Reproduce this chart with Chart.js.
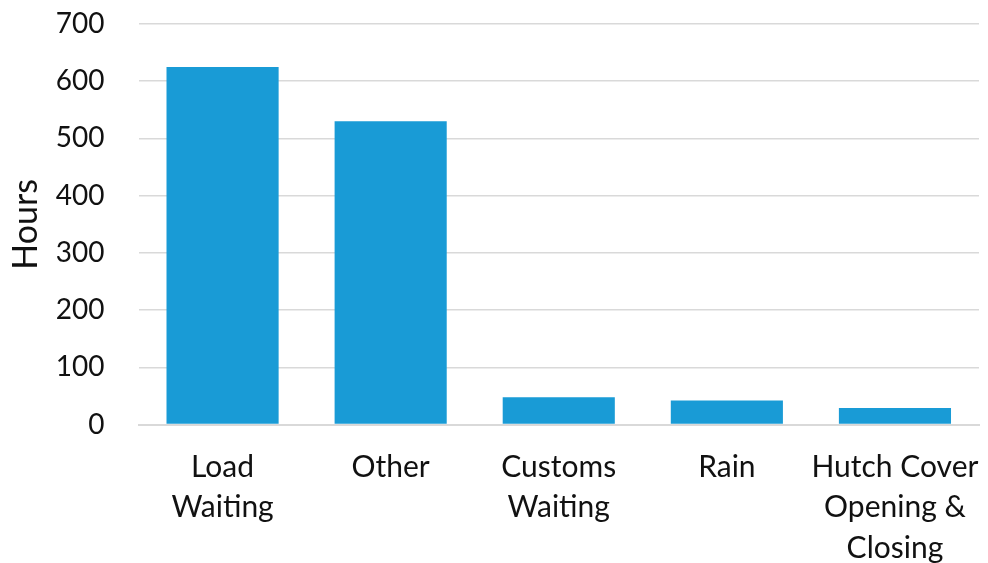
<!DOCTYPE html>
<html lang="en">
<head>
    <meta charset="UTF-8">
    <title>Delay Hours</title>
    <script src="https://cdn.jsdelivr.net/npm/chart.js"></script>
    <style>
        html, body { margin: 0; padding: 0; background: #fff; }
        #wrap { width: 988px; height: 563px; }
    </style>
</head>
<body>
    <div id="wrap"><canvas id="delayChart"></canvas></div>
    <script>
        const categories = [
            ['Load', 'Waiting'],
            'Other',
            ['Customs', 'Waiting'],
            'Rain',
            ['Hutch Cover', 'Opening &', 'Closing']
        ];
        const hours = [625, 530, 48, 42, 29];

        const font = "Lato, 'Open Sans', sans-serif";
        const clear = 'rgba(0,0,0,0)';

        const ctx = document.getElementById('delayChart').getContext('2d');
        new Chart(ctx, {
            type: 'bar',
            data: {
                labels: categories,
                datasets: [{
                    label: 'Hours',
                    data: hours,
                    backgroundColor: '#199bd6',
                    barPercentage: 0.667,
                    categoryPercentage: 1.0
                }]
            },
            options: {
                responsive: true,
                maintainAspectRatio: false,
                animation: false,
                layout: { padding: { left: 4, right: 9, top: 24, bottom: -8 } },
                plugins: {
                    legend: { display: false },
                    tooltip: { enabled: false }
                },
                scales: {
                    x: {
                        // invisible tick marks give the gap under the axis without extra side padding
                        grid: { display: true, drawOnChartArea: false, tickLength: 20, tickColor: clear },
                        border: { display: true, color: '#d9d9d9', width: 2 },
                        ticks: {
                            color: '#111',
                            font: { family: font, size: 30, lineHeight: 1.36 },
                            padding: 2,
                            maxRotation: 0,
                            autoSkip: false
                        }
                    },
                    y: {
                        min: 0,
                        max: 700,
                        grid: { color: '#d9d9d9', lineWidth: 1.5, tickLength: 30, tickColor: clear },
                        border: { display: false },
                        ticks: {
                            stepSize: 100,
                            color: '#111',
                            font: { family: font, size: 28 },
                            padding: 4
                        },
                        title: {
                            display: true,
                            text: 'Hours',
                            color: '#111',
                            font: { family: font, size: 34 },
                            padding: { top: 2, bottom: 5 }
                        }
                    }
                }
            }
        });
    </script>
</body>
</html>
